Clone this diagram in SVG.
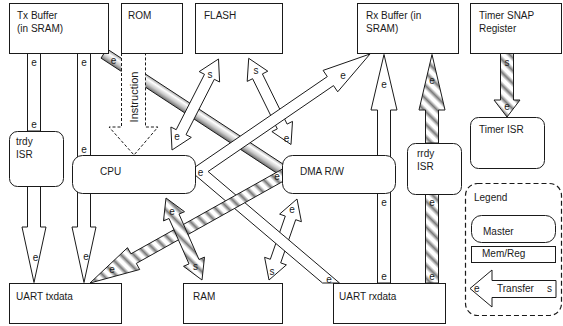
<svg xmlns="http://www.w3.org/2000/svg" width="563" height="326" viewBox="0 0 563 326">
<style>
.bx{fill:#fff;stroke:#1a1a1a;stroke-width:1}
.ar{fill:#fff;stroke:#1a1a1a;stroke-width:1;stroke-linejoin:miter}
.st{fill:url(#stripe);stroke:#1a1a1a;stroke-width:1}
.t{font-family:"Liberation Sans",Arial,sans-serif;font-size:10px;fill:#1a1a1a}
.l{font-family:"Liberation Sans",Arial,sans-serif;font-size:10px;fill:#1a1a1a;text-anchor:middle}
</style>
<defs>
<linearGradient id="stripe" gradientUnits="userSpaceOnUse" x1="0" y1="0" x2="6.4" y2="-6.4" spreadMethod="repeat">
<stop offset="0" stop-color="#ffffff"/>
<stop offset="0.2" stop-color="#ffffff"/>
<stop offset="0.55" stop-color="#7a7a7a"/>
<stop offset="0.9" stop-color="#ffffff"/>
<stop offset="1" stop-color="#ffffff"/>
</linearGradient>
<linearGradient id="metal" gradientUnits="userSpaceOnUse" x1="107" y1="48.9" x2="101" y2="58.1">
<stop offset="0" stop-color="#aaaaaa"/>
<stop offset="0.3" stop-color="#ffffff"/>
<stop offset="0.65" stop-color="#c8c8c8"/>
<stop offset="1" stop-color="#707070"/>
</linearGradient>
</defs>
<rect width="563" height="326" fill="#fff"/>
<g id="connectors">
<polygon id="tx-dma" points="107,48.9 292.8,170.5 286.8,179.7 101,58.1" fill="url(#metal)" stroke="#1a1a1a"/>
<polygon id="rom-cpu" points="121.5,53 121.5,127 109,127 134,155 158,127 145.5,127 145.5,53" fill="#fff" stroke="#1a1a1a" stroke-dasharray="3,2"/>
<rect id="tx-trdy" class="ar" x="27.5" y="53" width="13" height="78"/>
<polygon id="trdy-uart" class="ar" points="27.5,186 27.5,227 22,227 34,282.5 46,227 40.5,227 40.5,186"/>
<polygon id="tx-uart" class="ar" points="77.5,53 77.5,227 72,227 84,282.5 96,227 90.5,227 90.5,53"/>
<polygon id="flash-cpu" class="ar" points="218.5,59 219.6,82 214.3,79.3 186,134.7 191.3,137.4 172,150 170.9,127 176.2,129.7 204.5,74.3 199.2,71.6"/>
<polygon id="flash-dma" class="ar" points="248.7,58.3 267.8,71.2 262.4,73.9 287.1,124.1 292.5,121.4 291,144.5 271.9,131.6 277.3,128.9 252.6,78.7 247.2,81.4"/>
<polygon id="dma-ram" class="ar" points="297,199 301.4,221.7 295.7,219.7 280.7,262.9 286.4,264.9 269,280 264.6,257.3 270.3,259.3 285.3,216.1 279.6,214.1"/>
<polygon id="cpu-rx" class="ar" points="189.9,170.6 327.3,76.6 323.1,70.4 370,54 337.7,91.8 333.5,85.6 208.1,171.5 339.5,283 322.5,283"/>
<polygon id="dma-uarttx" class="st" points="289.3,165.2 130.95,253.8 127.5,247.7 90,283 139.7,269.5 136.3,263.4 294.7,174.8"/>
<polygon id="cpu-ram" class="st" points="166,198 184.5,211.7 179,214.1 199,259.5 204.5,257.1 202,280 183.5,266.3 189,263.9 169,218.5 163.5,220.9"/>
<polygon id="uartrx-rx" class="ar" points="377.5,283 377.5,110 371,110 384,54.5 397,110 390.5,110 390.5,283"/>
<polygon id="rrdy-rx" class="st" points="425.5,143 425.5,110 419,110 432,54.5 445,110 438.5,110 438.5,143"/>
<rect id="uartrx-rrdy" class="st" x="425.5" y="194" width="13" height="89"/>
<polygon id="snap-timer" class="st" points="500.5,53 500.5,100 494,100 507,117 520,100 513.5,100 513.5,53"/>
</g>
<g id="tx-buffer"><rect class="bx" x="9.5" y="3.5" width="99" height="50"/><text class="t" x="17" y="19">Tx Buffer</text><text class="t" x="17" y="32">(in SRAM)</text></g>
<g id="rom"><rect class="bx" x="121.5" y="3.5" width="61" height="50"/><text class="t" x="128" y="19">ROM</text></g>
<g id="flash"><rect class="bx" x="195.5" y="3.5" width="87" height="50"/><text class="t" x="204" y="19">FLASH</text></g>
<g id="rx-buffer"><rect class="bx" x="357.5" y="3.5" width="101" height="50"/><text class="t" x="366" y="19">Rx Buffer (in</text><text class="t" x="366" y="32">SRAM)</text></g>
<g id="timer-snap"><rect class="bx" x="470.5" y="3.5" width="91" height="50"/><text class="t" x="479" y="19">Timer SNAP</text><text class="t" x="479" y="32">Register</text></g>
<g id="trdy-isr"><rect class="bx" x="9.5" y="131.5" width="54" height="55" rx="8"/><text class="t" x="16" y="145">trdy</text><text class="t" x="16" y="158">ISR</text></g>
<g id="cpu"><rect class="bx" x="72.5" y="155.5" width="123" height="38" rx="10"/><text class="t" x="100" y="175">CPU</text></g>
<g id="dma"><rect class="bx" x="282.5" y="155.5" width="113" height="38" rx="10"/><text class="t" x="300" y="175">DMA R/W</text></g>
<g id="rrdy-isr"><rect class="bx" x="407.5" y="143.5" width="54" height="51" rx="8"/><text class="t" x="417" y="157">rrdy</text><text class="t" x="417" y="170">ISR</text></g>
<g id="timer-isr"><rect class="bx" x="470.5" y="117.5" width="74" height="51" rx="8"/><text class="t" x="479" y="133">Timer ISR</text></g>
<g id="uart-txdata"><rect class="bx" x="9.5" y="283.5" width="112" height="40"/><text class="t" x="16" y="300">UART txdata</text></g>
<g id="ram"><rect class="bx" x="183.5" y="283.5" width="99" height="40"/><text class="t" x="193" y="300">RAM</text></g>
<g id="uart-rxdata"><rect class="bx" x="333.5" y="283.5" width="112" height="40"/><text class="t" x="339" y="300">UART rxdata</text></g>
<g id="legend">
<rect x="465.5" y="183.5" width="96" height="132" rx="12" fill="none" stroke="#1a1a1a" stroke-width="1.2" stroke-dasharray="5,3"/>
<text class="t" x="474" y="201">Legend</text>
<rect class="bx" x="471.5" y="215.5" width="84" height="27" rx="10"/>
<text class="t" x="483" y="235">Master</text>
<rect class="bx" x="471.5" y="246.5" width="84" height="16"/>
<text class="t" x="482" y="257">Mem/Reg</text>
<polygon class="ar" points="470,288.5 492,270 492,280.5 556,280.5 556,297.5 492,297.5 492,307"/>
<text class="t" x="474" y="292">e</text>
<text class="t" x="497" y="292">Transfer</text>
<text class="t" x="547" y="292">s</text>
</g>
<g id="labels">
<text class="l" x="34" y="66">e</text>
<text class="l" x="34" y="128">e</text>
<text class="l" x="35.5" y="261">e</text>
<text class="l" x="84" y="66">e</text>
<text class="l" x="84" y="153">e</text>
<text class="l" x="86" y="260">e</text>
<text class="l" x="113.5" y="63.5">e</text>
<text class="l" x="0" y="0" transform="translate(138,97) rotate(-90)" style="font-size:11px">Instruction</text>
<text class="l" x="210" y="78">s</text>
<text class="l" x="177" y="140">e</text>
<text class="l" x="256" y="74">s</text>
<text class="l" x="286.5" y="142">e</text>
<text class="l" x="343" y="79">e</text>
<text class="l" x="200.5" y="176">e</text>
<text class="l" x="277" y="180">e</text>
<text class="l" x="112" y="273">e</text>
<text class="l" x="329" y="283">e</text>
<text class="l" x="292" y="213">e</text>
<text class="l" x="272" y="275">s</text>
<text class="l" x="172" y="214.5">e</text>
<text class="l" x="195.5" y="270">s</text>
<text class="l" x="384" y="88">e</text>
<text class="l" x="384" y="206">e</text>
<text class="l" x="384" y="279.5">e</text>
<text class="l" x="432" y="84">e</text>
<text class="l" x="432" y="206">e</text>
<text class="l" x="432" y="279.5">e</text>
<text class="l" x="507" y="65.5">s</text>
<text class="l" x="507" y="109.5">e</text>
</g>
</svg>
